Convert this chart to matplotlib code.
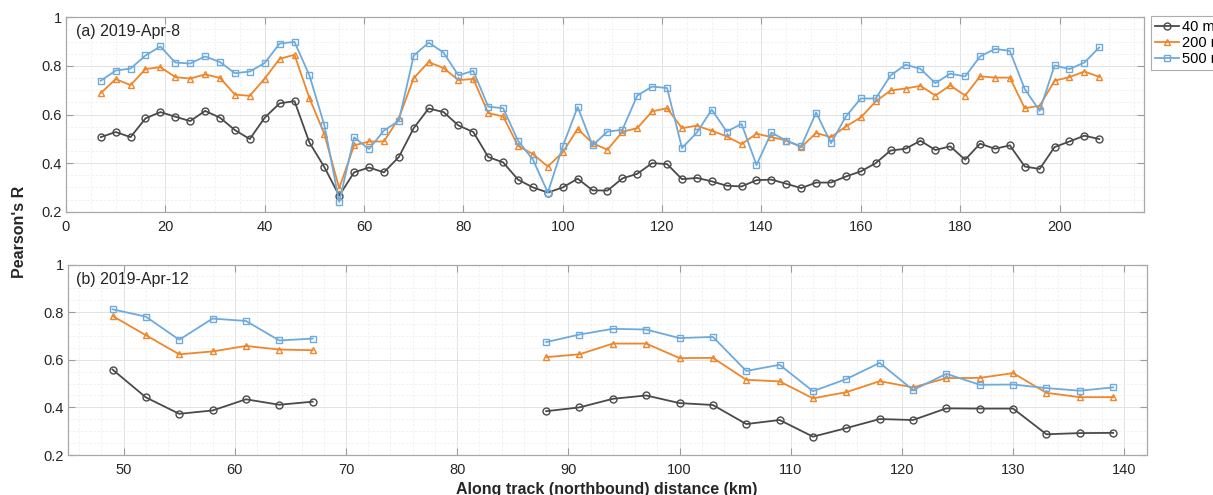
import numpy as np
import matplotlib
matplotlib.use('Agg')
import matplotlib.pyplot as plt
from matplotlib.ticker import MultipleLocator, FuncFormatter

plt.rcParams['font.family'] = ['Liberation Sans', 'DejaVu Sans']

# along-track distance (km) of each window, 2019-Apr-8
dist_a = [7, 10, 13, 16, 19, 22, 25, 28, 31, 34, 37, 40, 43, 46, 49, 52, 55, 58, 61, 64,
          67, 70, 73, 76, 79, 82, 85, 88, 91, 94, 97, 100, 103, 106, 109, 112, 115, 118, 121, 124,
          127, 130, 133, 136, 139, 142, 145, 148, 151, 154, 157, 160, 163, 166, 169, 172, 175, 178, 181, 184,
          187, 190, 193, 196, 199, 202, 205, 208]

r40_a = [0.507, 0.528, 0.507, 0.584, 0.610, 0.591, 0.573, 0.615, 0.587, 0.536,
         0.499, 0.587, 0.646, 0.655, 0.485, 0.384, 0.266, 0.362, 0.382, 0.362,
         0.425, 0.544, 0.625, 0.610, 0.555, 0.528, 0.425, 0.403, 0.332, 0.300,
         0.279, 0.300, 0.336, 0.288, 0.287, 0.337, 0.356, 0.400, 0.396, 0.334,
         0.339, 0.325, 0.307, 0.304, 0.330, 0.332, 0.315, 0.297, 0.320, 0.320,
         0.345, 0.366, 0.400, 0.452, 0.459, 0.492, 0.454, 0.469, 0.414, 0.480,
         0.459, 0.473, 0.386, 0.376, 0.466, 0.489, 0.513, 0.499]
r200_a = [0.688, 0.746, 0.721, 0.787, 0.795, 0.754, 0.748, 0.765, 0.751, 0.682,
          0.677, 0.748, 0.829, 0.846, 0.668, 0.520, 0.297, 0.473, 0.489, 0.489,
          0.585, 0.750, 0.816, 0.791, 0.742, 0.746, 0.606, 0.592, 0.471, 0.437,
          0.386, 0.445, 0.541, 0.482, 0.455, 0.529, 0.544, 0.613, 0.626, 0.544,
          0.554, 0.533, 0.510, 0.478, 0.521, 0.507, 0.493, 0.466, 0.524, 0.507,
          0.551, 0.588, 0.654, 0.699, 0.707, 0.718, 0.678, 0.720, 0.678, 0.757,
          0.752, 0.752, 0.626, 0.636, 0.739, 0.754, 0.777, 0.755]
r500_a = [0.739, 0.781, 0.789, 0.843, 0.880, 0.814, 0.810, 0.839, 0.816, 0.770,
          0.777, 0.812, 0.892, 0.899, 0.761, 0.557, 0.240, 0.506, 0.458, 0.534,
          0.574, 0.842, 0.896, 0.855, 0.761, 0.780, 0.632, 0.626, 0.492, 0.414,
          0.279, 0.469, 0.631, 0.473, 0.530, 0.537, 0.678, 0.715, 0.709, 0.462,
          0.526, 0.620, 0.530, 0.561, 0.392, 0.526, 0.492, 0.469, 0.608, 0.482,
          0.592, 0.666, 0.666, 0.761, 0.805, 0.788, 0.729, 0.768, 0.757, 0.839,
          0.870, 0.862, 0.705, 0.615, 0.802, 0.787, 0.814, 0.876]

# 2019-Apr-12 has two separate track sections
dist_b1 = [49, 52, 55, 58, 61, 64, 67]
dist_b2 = [88, 91, 94, 97, 100, 103, 106, 109, 112, 115, 118, 121, 124, 127, 130, 133, 136, 139]

r40_b1 = [0.559, 0.442, 0.373, 0.387, 0.434, 0.411, 0.424]
r200_b1 = [0.784, 0.703, 0.623, 0.635, 0.658, 0.643, 0.640]
r500_b1 = [0.812, 0.781, 0.684, 0.773, 0.763, 0.681, 0.689]

r40_b2 = [0.384, 0.400, 0.436, 0.450, 0.418, 0.410, 0.330, 0.347, 0.277, 0.313,
          0.351, 0.347, 0.396, 0.395, 0.395, 0.287, 0.292, 0.293]
r200_b2 = [0.611, 0.623, 0.668, 0.668, 0.607, 0.608, 0.516, 0.509, 0.438, 0.464,
           0.510, 0.484, 0.523, 0.524, 0.544, 0.461, 0.443, 0.443]
r500_b2 = [0.674, 0.706, 0.730, 0.727, 0.691, 0.696, 0.553, 0.579, 0.468, 0.519,
           0.587, 0.473, 0.541, 0.495, 0.496, 0.481, 0.470, 0.484]

labels = ['40 m', '200 m', '500 m']
colors = ['#4a4a4a', '#f0862a', '#6eaadc']
markers = ['o', '^', 's']


def style_axis(ax, xlim, xmajor, xminor):
    ax.set_xlim(*xlim)
    ax.set_ylim(0.2, 1)
    ax.xaxis.set_major_locator(MultipleLocator(xmajor))
    ax.xaxis.set_minor_locator(MultipleLocator(xminor))
    ax.yaxis.set_major_locator(MultipleLocator(0.2))
    ax.yaxis.set_minor_locator(MultipleLocator(0.05))
    ax.yaxis.set_major_formatter(FuncFormatter(lambda v, p: '%g' % round(v, 2)))
    ax.grid(which='major', color='#e3e3e3', lw=0.7)
    ax.grid(which='minor', color='#efefef', lw=0.6, ls=(0, (3, 2)))
    ax.set_axisbelow(True)
    ax.tick_params(which='major', direction='in', length=5, width=0.8, color='#9a9a9a',
                   top=True, right=True, labelsize=10.5, labelcolor='#262626')
    ax.tick_params(axis='x', which='major', pad=6)
    ax.tick_params(axis='y', which='major', pad=3)
    ax.tick_params(which='minor', length=0)
    for sp in ax.spines.values():
        sp.set_color('#a8a8a8')
        sp.set_linewidth(0.9)


fig = plt.figure(figsize=(12.13, 4.95), dpi=100)
ax1 = fig.add_axes([0.0544, 0.5723, 0.8887, 0.3927])
ax2 = fig.add_axes([0.0561, 0.0808, 0.8891, 0.3848])

handles = []
for ys, c, m, lab in zip([r40_a, r200_a, r500_a], colors, markers, labels):
    h, = ax1.plot(dist_a, ys, color=c, marker=m, mfc='none', mec=c, ms=5, mew=1.0,
                  lw=1.3, label=lab)
    handles.append(h)

for seg_x, seg_ys in [(dist_b1, [r40_b1, r200_b1, r500_b1]),
                      (dist_b2, [r40_b2, r200_b2, r500_b2])]:
    for ys, c, m in zip(seg_ys, colors, markers):
        ax2.plot(seg_x, ys, color=c, marker=m, mfc='none', mec=c, ms=5, mew=1.0, lw=1.3)

style_axis(ax1, (0, 217), 20, 5)
style_axis(ax2, (45, 142), 10, 2)

ax1.text(0.009, 0.925, '(a) 2019-Apr-8', transform=ax1.transAxes, fontsize=11.5,
         va='center', ha='left', color='#262626')
ax2.text(0.007, 0.919, '(b) 2019-Apr-12', transform=ax2.transAxes, fontsize=11.5,
         va='center', ha='left', color='#262626')

fig.text(0.016, 0.531, "Pearson's R", rotation=90, fontsize=11.5, fontweight='bold',
         va='center', ha='center', color='#262626')
fig.text(0.5, 0.027, 'Along track (northbound) distance (km)', fontsize=11.5,
         fontweight='bold', va='top', ha='center', color='#262626')

leg = fig.legend(handles=handles, loc='upper left', bbox_to_anchor=(1151 / 1213, 1 - 16 / 495),
                 frameon=True, fancybox=False, fontsize=10.5, handlelength=1.7,
                 handletextpad=0.15, borderpad=0.25, labelspacing=0.15, borderaxespad=0)
leg.get_frame().set_edgecolor('#9a9a9a')
leg.get_frame().set_linewidth(0.8)

fig.savefig('out.png', dpi=100)
